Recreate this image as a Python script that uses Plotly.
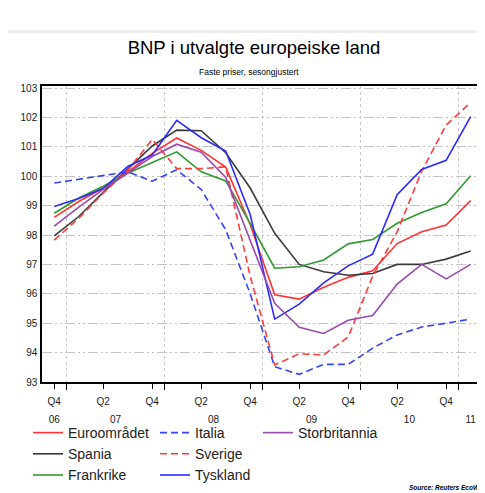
import plotly.graph_objects as go

# ---------------- data ----------------
quarters = ["2006Q4", "2007Q1", "2007Q2", "2007Q3", "2007Q4", "2008Q1", "2008Q2", "2008Q3",
            "2008Q4", "2009Q1", "2009Q2", "2009Q3", "2009Q4", "2010Q1", "2010Q2", "2010Q3",
            "2010Q4", "2011Q1"]

euroomradet = [98.6, 99.14, 99.6, 100.15, 100.78, 101.3, 100.88, 100.31, 98.35, 95.97, 95.82,
               96.22, 96.56, 96.78, 97.71, 98.11, 98.34, 99.17]
italia = [99.77, 99.9, 100.02, 100.15, 99.83, 100.22, 99.55, 98.18, 96.0, 93.52, 93.26, 93.6,
          93.6, 94.15, 94.6, 94.87, 95.0, 95.14]
storbritannia = [98.3, 98.95, 99.55, 100.1, 100.67, 101.09, 100.82, 99.96, 97.8, 95.68, 94.86,
                 94.65, 95.1, 95.26, 96.33, 97.0, 96.51, 97.0]
spania = [97.97, 98.63, 99.45, 100.25, 101.03, 101.57, 101.55, 100.8, 99.6, 98.06, 97.0, 96.75,
          96.63, 96.69, 97.0, 97.0, 97.18, 97.46]
sverige = [97.83, 98.57, 99.43, 100.2, 101.25, 100.26, 100.26, 100.32, 96.6, 93.58, 93.96, 93.92,
           94.53, 96.6, 98.11, 100.17, 101.74, 102.51]
frankrike = [98.74, 99.26, 99.66, 100.1, 100.47, 100.83, 100.15, 99.84, 98.4, 96.87, 96.92, 97.15,
             97.7, 97.85, 98.4, 98.77, 99.06, 100.02]
tyskland = [98.97, 99.24, 99.58, 100.33, 100.72, 101.9, 101.31, 100.86, 98.7, 95.14, 95.65, 96.37,
            96.95, 97.35, 99.37, 100.23, 100.54, 102.03]

y_ticks = [93, 94, 95, 96, 97, 98, 99, 100, 101, 102, 103]

# ---------------- derived axis positions ----------------
xi = list(range(len(quarters)))
q_vals = [i for i, q in enumerate(quarters) if q.endswith("Q4") or q.endswith("Q2")]
q_text = [quarters[i][-2:] for i in q_vals]
years = []
for q in quarters:
    if q[:4] not in years:
        years.append(q[:4])
year_vals = [sum(i for i, q in enumerate(quarters) if q[:4] == y) /
             len([q for q in quarters if q[:4] == y]) for y in years]
year_text = [y[2:] for y in years]
year_bounds = [i - 0.5 for i, q in enumerate(quarters) if q.endswith("Q1")]

FONT = "Liberation Sans, Arial, sans-serif"
XR = [-0.5, 17.3]

# page body has an 8px margin; layout below is expressed in figure pixels
W, H = 485, 493
ML, MT, PW, PH = 34, 78, 436, 296

series = [
    ("Euroområdet", euroomradet, "#ff3333", "solid", "legend"),
    ("Spania", spania, "#3a3a3a", "solid", "legend"),
    ("Frankrike", frankrike, "#2f9a2f", "solid", "legend"),
    ("Italia", italia, "#3344ff", "7px,4px", "legend2"),
    ("Sverige", sverige, "#ff3b3b", "7px,4px", "legend2"),
    ("Tyskland", tyskland, "#2a2aff", "solid", "legend2"),
    ("Storbritannia", storbritannia, "#9a48b0", "solid", "legend3"),
]

fig = go.Figure()
for name, vals, color, dash, leg in series:
    fig.add_trace(go.Scatter(
        x=xi, y=vals, mode="lines", name=name,
        line=dict(color=color, width=1.6, dash=dash),
        legend=leg, hoverinfo="skip",
    ))

# invisible trace so the year-label axis is drawn
fig.add_trace(go.Scatter(x=[xi[0]], y=[y_ticks[0]], xaxis="x2", mode="markers",
                         marker=dict(opacity=0), showlegend=False, hoverinfo="skip"))

legend_common = dict(
    xref="container", yref="container", xanchor="left", yanchor="top",
    orientation="v", bgcolor="rgba(0,0,0,0)", borderwidth=0,
    font=dict(family=FONT, size=14, color="#222222"),
    itemwidth=30, tracegroupgap=0,
)

LEG_Y = 1 - 409 / H

def px(xp):
    return (xp - ML) / PW

def py(yp):
    return (MT + PH - yp) / PH

fig.update_layout(
    width=W, height=H,
    margin=dict(l=ML, r=W - ML - PW, t=MT, b=H - MT - PH, autoexpand=False),
    paper_bgcolor="white", plot_bgcolor="white",
    showlegend=True,
    title=dict(
        text="BNP i utvalgte europeiske land",
        x=(254 - 8) / W, xref="container", xanchor="center",
        y=1 - 40 / H, yref="container", yanchor="middle",
        font=dict(family=FONT, size=18.5, color="#000000"),
    ),
    legend=dict(x=20 / W, y=LEG_Y, **legend_common),
    legend2=dict(x=147 / W, y=LEG_Y, **legend_common),
    legend3=dict(x=250 / W, y=LEG_Y, **legend_common),
    xaxis=dict(
        range=XR, autorange=False, showgrid=False, zeroline=False, automargin=False,
        tickmode="array", tickvals=q_vals, ticktext=q_text,
        ticks="outside", ticklen=5, tickwidth=1, tickcolor="#000000",
        ticklabelstandoff=4,
        tickfont=dict(family=FONT, size=10, color="#1a1a1a"),
        showline=True, linecolor="#000000", linewidth=1.5, mirror=True,
        minor=dict(tickmode="array", tickvals=year_bounds, ticks="outside", ticklen=6,
                   tickcolor="#000000", tickwidth=1, showgrid=True,
                   gridcolor="#c8c8c8", gridwidth=1, griddash="dot"),
    ),
    xaxis2=dict(
        overlaying="x", anchor="y", side="bottom", range=XR, autorange=False,
        showgrid=False, zeroline=False, showline=False, ticks="", automargin=False,
        tickmode="array", tickvals=year_vals, ticktext=year_text,
        ticklabelstandoff=30,
        tickfont=dict(family=FONT, size=10, color="#1a1a1a"),
    ),
    yaxis=dict(
        range=[93, 103.07], autorange=False, tickmode="array", tickvals=y_ticks,
        ticks="", ticklabelstandoff=1, automargin=False,
        tickfont=dict(family=FONT, size=10, color="#1a1a1a"),
        showgrid=True, gridcolor="#c4c4c4", gridwidth=1,
        griddash="10px,3px,2px,3px,2px,3px",
        zeroline=False, showline=True, linecolor="#000000", linewidth=1.5,
    ),
    annotations=[
        dict(text="Faste priser, sesongjustert", xref="paper", yref="paper",
             x=px(248.5 - 8), y=py(72 - 8), xanchor="center", yanchor="middle",
             showarrow=False, font=dict(family=FONT, size=8.5, color="#000000")),
        dict(text="<b><i>Source: Reuters EcoWin</i></b>", xref="paper", yref="paper",
             x=px(407 - 8), y=py(487 - 8), xanchor="left", yanchor="middle",
             showarrow=False, font=dict(family=FONT, size=6.5, color="#000000")),
    ],
    shapes=[
        dict(type="rect", xref="paper", yref="paper",
             x0=px(-8), x1=px(-3), y0=py(H), y1=py(30 - 8),
             fillcolor="#eeeeee", line=dict(width=0), layer="below"),
        dict(type="rect", xref="paper", yref="paper",
             x0=px(-8), x1=px(W), y0=py(33 - 8), y1=py(30 - 8),
             fillcolor="#eeeeee", line=dict(width=0), layer="below"),
    ],
)

fig.write_html("out.html")
